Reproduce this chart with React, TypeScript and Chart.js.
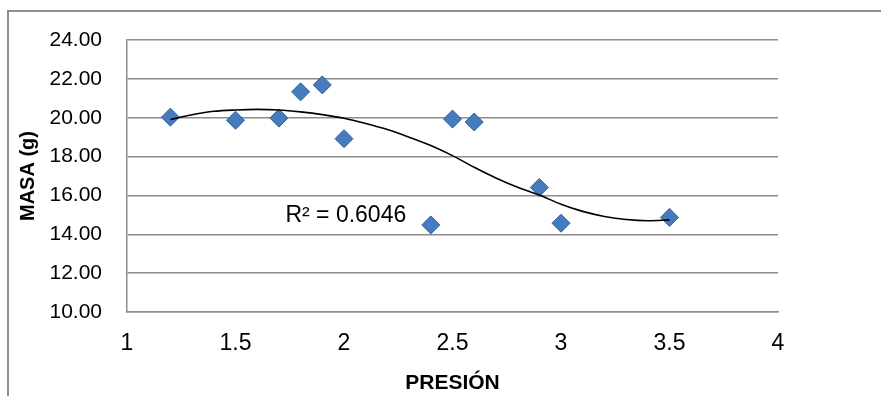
import React, { useEffect, useRef } from "react";
import { Chart, registerables } from "chart.js";

Chart.register(...registerables);

// Measured data: PRESIÓN vs MASA (g)
const presion = [1.2, 1.5, 1.7, 1.8, 1.9, 2.0, 2.4, 2.5, 2.6, 2.9, 3.0, 3.5];
const masa = [20.03, 19.87, 19.98, 21.33, 21.69, 18.92, 14.48, 19.93, 19.78, 16.41, 14.57, 14.87];

// Trendline (polynomial)
const trendX = [1.2, 1.3, 1.4, 1.5, 1.6, 1.7, 1.8, 1.9, 2.0, 2.1, 2.2, 2.3, 2.4, 2.5, 2.6, 2.7, 2.8, 2.9, 3.0, 3.1, 3.2, 3.3, 3.4, 3.5];
const trendY = [19.91, 20.15, 20.33, 20.4, 20.43, 20.4, 20.3, 20.16, 19.97, 19.7, 19.39, 19.0, 18.57, 18.05, 17.45, 16.9, 16.42, 16.02, 15.55, 15.18, 14.92, 14.76, 14.7, 14.74];

// Axis ranges / ticks
const xTicks = { min: 1, max: 4, step: 0.5 };
const yTicks = { min: 10, max: 24, step: 2 };

const xTitle = "PRESIÓN";
const yTitle = "MASA (g)";
const r2Text = "R² = 0.6046";
const r2Anchor = { x: 1.73, y: 14.98 };

const FONT = "'Liberation Sans', Arial, sans-serif";
const GRID = "#8c8c8c";

export default function App() {
  const ref = useRef<HTMLCanvasElement | null>(null);

  useEffect(() => {
    if (!ref.current) return;
    Chart.defaults.font.family = FONT;
    Chart.defaults.color = "#000";

    const r2Plugin = {
      id: "r2label",
      afterDatasetsDraw(chart: any) {
        const { ctx, scales } = chart;
        const px = scales.x.getPixelForValue(r2Anchor.x);
        const py = scales.y.getPixelForValue(r2Anchor.y);
        ctx.save();
        ctx.font = `23px ${FONT}`;
        ctx.fillStyle = "#000";
        ctx.textAlign = "left";
        ctx.textBaseline = "middle";
        ctx.fillText(r2Text, px, py);
        ctx.restore();
      },
    };

    const chart = new Chart(ref.current, {
      type: "scatter",
      data: {
        datasets: [
          {
            label: "Trend",
            data: trendX.map((x, i) => ({ x, y: trendY[i] })),
            showLine: true,
            borderColor: "#000",
            borderWidth: 1.6,
            pointRadius: 0,
            cubicInterpolationMode: "monotone",
            order: 0,
          } as any,
          {
            label: "MASA",
            data: presion.map((x, i) => ({ x, y: masa[i] })),
            pointStyle: "rectRot",
            pointRadius: 9,
            backgroundColor: "#467bbd",
            borderColor: "#2f5f9c",
            borderWidth: 1,
            order: 1,
          },
        ],
      },
      options: {
        responsive: false,
        animation: false,
        layout: { padding: { left: 0, top: 40, right: 103, bottom: 0 } },
        plugins: { legend: { display: false }, tooltip: { enabled: false } },
        scales: {
          x: {
            type: "linear",
            min: xTicks.min,
            max: xTicks.max,
            afterFit: (s: any) => {
              s.height = 84;
            },
            ticks: {
              stepSize: xTicks.step,
              font: { size: 23 },
              color: "#000",
              padding: 18,
              callback: (v: any) => String(Number(v)),
            },
            grid: { drawOnChartArea: false, drawTicks: false, color: GRID },
            border: { display: true, color: GRID, width: 1.5 },
            title: {
              display: true,
              text: xTitle,
              font: { size: 21, weight: "bold" },
              color: "#000",
              padding: { top: 0, bottom: 0 },
            },
          },
          y: {
            type: "linear",
            min: yTicks.min,
            max: yTicks.max,
            afterFit: (s: any) => {
              s.width = 127;
            },
            ticks: {
              stepSize: yTicks.step,
              font: { size: 21 },
              color: "#000",
              padding: 25,
              callback: (v: any) => Number(v).toFixed(2),
            },
            grid: { color: GRID, lineWidth: 1.5, drawTicks: false },
            border: { display: true, color: GRID, width: 1.5 },
            title: {
              display: true,
              text: yTitle,
              font: { size: 20, weight: "bold" },
              color: "#000",
              padding: { top: 16, bottom: 0 },
            },
          },
        },
      },
      plugins: [r2Plugin],
    });
    return () => chart.destroy();
  }, []);

  return (
    <div style={{ position: "absolute", left: 0, top: 0, width: 881, height: 396, overflow: "hidden", background: "#fff" }}>
      <div
        style={{
          position: "absolute",
          left: 7,
          top: 10,
          width: 900,
          height: 400,
          borderLeft: "2px solid #8e8e8e",
          borderTop: "2px solid #8e8e8e",
        }}
      />
      <canvas ref={ref} width={881} height={396} style={{ position: "absolute", left: 0, top: 0 }} />
    </div>
  );
}
